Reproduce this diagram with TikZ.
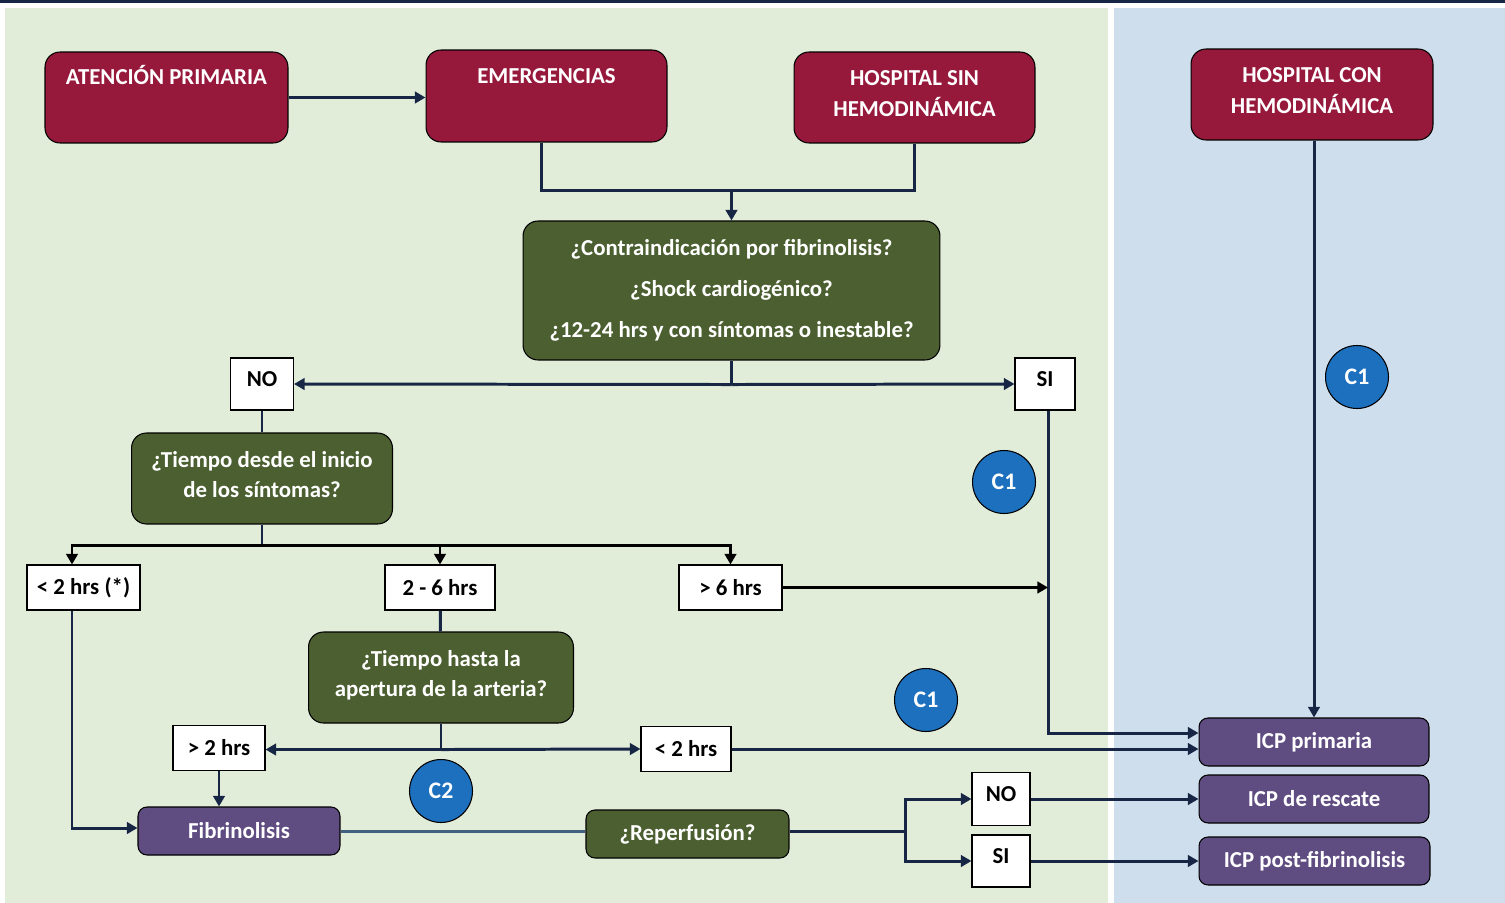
\documentclass[tikz,border=0pt]{standalone}
\usepackage{fontspec}
\setmainfont{Carlito}
\usetikzlibrary{arrows.meta}
\definecolor{fondoverde}{RGB}{226,237,217}
\definecolor{fondoazul}{RGB}{207,222,237}
\definecolor{granate}{RGB}{150,25,60}
\definecolor{verdeosc}{RGB}{75,95,48}
\definecolor{morado}{RGB}{95,77,130}
\definecolor{azulc}{RGB}{28,112,190}
\definecolor{azulosc}{RGB}{24,38,70}
\definecolor{acero}{RGB}{68,96,128}
\newcommand{\subir}{\rule[-0.16cm]{0pt}{0pt}}

\begin{document}
\begin{tikzpicture}[x=0.02cm,y=-0.02cm,
  caja/.style={draw=black,line width=0.6pt,rounded corners=0.3cm,text=white,align=center,inner sep=0pt,
    font=\bfseries\fontsize{13}{17.6}\selectfont},
  inst/.style={caja,fill=granate},
  arriba/.style={text height=0.3cm,text depth=0.82cm},
  preg/.style={caja,fill=verdeosc},
  icp/.style={caja,fill=morado,rounded corners=0.18cm},
  opc/.style={draw=black,line width=0.6pt,fill=white,inner sep=0pt,font=\bfseries\fontsize{13}{15}\selectfont},
  opcalta/.style={opc,text height=0.28cm,text depth=0.2cm},
  circ/.style={circle,draw=black,line width=0.6pt,fill=azulc,text=white,minimum size=1.26cm,inner sep=0pt,
    font=\bfseries\fontsize{13.5}{15}\selectfont},
  linea/.style={draw=azulosc,line width=1.7pt},
  flecha/.style={linea,-{Triangle[length=6pt,width=6.5pt]}},
  flechan/.style={draw=black,line width=1.7pt,-{Triangle[length=6pt,width=6.5pt]}}]
\useasboundingbox (0,0) rectangle (1505,903);
\fill[azulosc] (0,0) rectangle (1505,3);
\fill[fondoverde] (5,8) rectangle (1108,903);
\fill[fondoazul] (1114,8) rectangle (1505,903);

\node[inst,arriba,minimum width=4.86cm,minimum height=1.82cm] (aten) at (166.5,97.5) {ATENCIÓN PRIMARIA};
\node[inst,arriba,minimum width=4.82cm,minimum height=1.84cm] (emer) at (546.5,96) {EMERGENCIAS};
\node[inst,minimum width=4.82cm,minimum height=1.82cm] (hsin) at (914.5,97.5) {HOSPITAL SIN\\HEMODINÁMICA\subir};
\node[inst,minimum width=4.84cm,minimum height=1.82cm] (hcon) at (1312,94.5) {HOSPITAL CON\\HEMODINÁMICA\subir};
\node[preg,minimum width=8.34cm,minimum height=2.78cm,font=\bfseries\fontsize{13}{23.5}\selectfont] (contra) at (731.5,290.5)
  {¿Contraindicación por fibrinolisis?\\¿Shock cardiogénico?\\¿12-24 hrs y con síntomas o inestable?};
\node[opcalta,minimum width=1.26cm,minimum height=1.04cm] (no1) at (262,384) {NO};
\node[opcalta,minimum width=1.2cm,minimum height=1.04cm] (si1) at (1045,384) {SI};
\node[preg,minimum width=5.22cm,minimum height=1.82cm] (tdesde) at (262,478.5) {¿Tiempo desde el inicio\\de los síntomas?\subir};
\node[opc,minimum width=2.26cm,minimum height=0.9cm] (menosdos) at (83.5,587.5) {< 2 hrs (*)};
\node[opc,minimum width=2.2cm,minimum height=0.9cm] (dosseis) at (440,587.5) {2 - 6 hrs};
\node[opc,minimum width=2.06cm,minimum height=0.9cm] (masseis) at (730.5,587.5) {> 6 hrs};
\node[preg,minimum width=5.3cm,minimum height=1.82cm] (thasta) at (441,677.5) {¿Tiempo hasta la\\apertura de la arteria?\subir};
\node[opc,minimum width=1.84cm,minimum height=0.9cm] (masdos) at (219,748) {> 2 hrs};
\node[opc,minimum width=1.8cm,minimum height=0.9cm] (menosdosb) at (686,749) {< 2 hrs};
\node[icp,minimum width=4.04cm,minimum height=0.96cm] (fibri) at (239,831) {Fibrinolisis};
\node[preg,rounded corners=0.18cm,minimum width=4.06cm,minimum height=0.96cm] (reperf) at (687.5,834) {¿Reperfusión?};
\node[opcalta,minimum width=1.16cm,minimum height=1.06cm] (no2) at (1001,799) {NO};
\node[opcalta,minimum width=1.16cm,minimum height=1.04cm] (si2) at (1001,861) {SI};
\node[icp,minimum width=4.6cm,minimum height=0.96cm] (icpprim) at (1314,742) {ICP primaria};
\node[icp,minimum width=4.6cm,minimum height=0.96cm] (icpresc) at (1314,799) {ICP de rescate};
\node[icp,minimum width=4.62cm,minimum height=0.96cm] (icppost) at (1314.5,861) {ICP post-fibrinolisis};
\node[circ] (cunoa) at (1357,377) {C1};
\node[circ] (cunob) at (1004,482) {C1};
\node[circ] (cunoc) at (926,700) {C1};
\node[circ] (cdos) at (441,791) {C2};

\draw[flecha] (aten.east) -- (emer.west |- aten.east);
\draw[linea] ([xshift=-0.11cm]emer.south) -- ++(0,48) coordinate (union) -| (hsin.south);
\draw[flecha] (union -| contra.north) -- (contra.north);
\draw[linea] (contra.south) -- ++(0,24) coordinate (bifa);
\draw[flecha] (bifa) -- (no1.east);
\draw[flecha] (bifa) -- (si1.west);
\draw[linea] (no1) -- (tdesde);
\draw[linea] (tdesde.south) -- ++(0,21) coordinate (bifb);
\draw[flechan] (bifb) -| ([xshift=-0.23cm]menosdos.north);
\draw[flechan] (bifb) -| (dosseis.north);
\draw[flechan] (bifb) -| (masseis.north);
\draw[linea] (dosseis) -- (thasta);
\draw[linea] (thasta.south) -- ++(0,26) coordinate (bifc);
\draw[flecha] (bifc) -- (masdos.east |- bifc);
\draw[flecha] (bifc) -- (menosdosb.west);
\draw[flecha] (masdos.south) -- (masdos.south |- fibri.north);
\draw[flecha] ([xshift=-0.23cm]menosdos.south) |- ([yshift=0.06cm]fibri.west);
\draw[draw=acero,line width=1.7pt] (fibri.east) -- (reperf.west |- fibri.east);
\draw[linea] (reperf.east |- fibri.east) -- ++(116,0) coordinate (bifd);
\draw[flecha] (bifd) |- (no2.west);
\draw[flecha] (bifd) |- (si2.west);
\draw[flecha] (no2.east) -- (icpresc.west);
\draw[flecha] (si2.east) -- (icppost.west |- si2.east);
\draw[flecha] (menosdosb.east) -- (icpprim.west |- menosdosb.east);
\draw[flecha] ([xshift=0.06cm]si1.south) |- ([yshift=0.18cm]icpprim.west);
\draw[flechan] (masseis.east) -- ([xshift=0.06cm]si1.south |- masseis.east);
\draw[flecha] (hcon.south -| icpprim.north) -- (icpprim.north);
\end{tikzpicture}
\end{document}
